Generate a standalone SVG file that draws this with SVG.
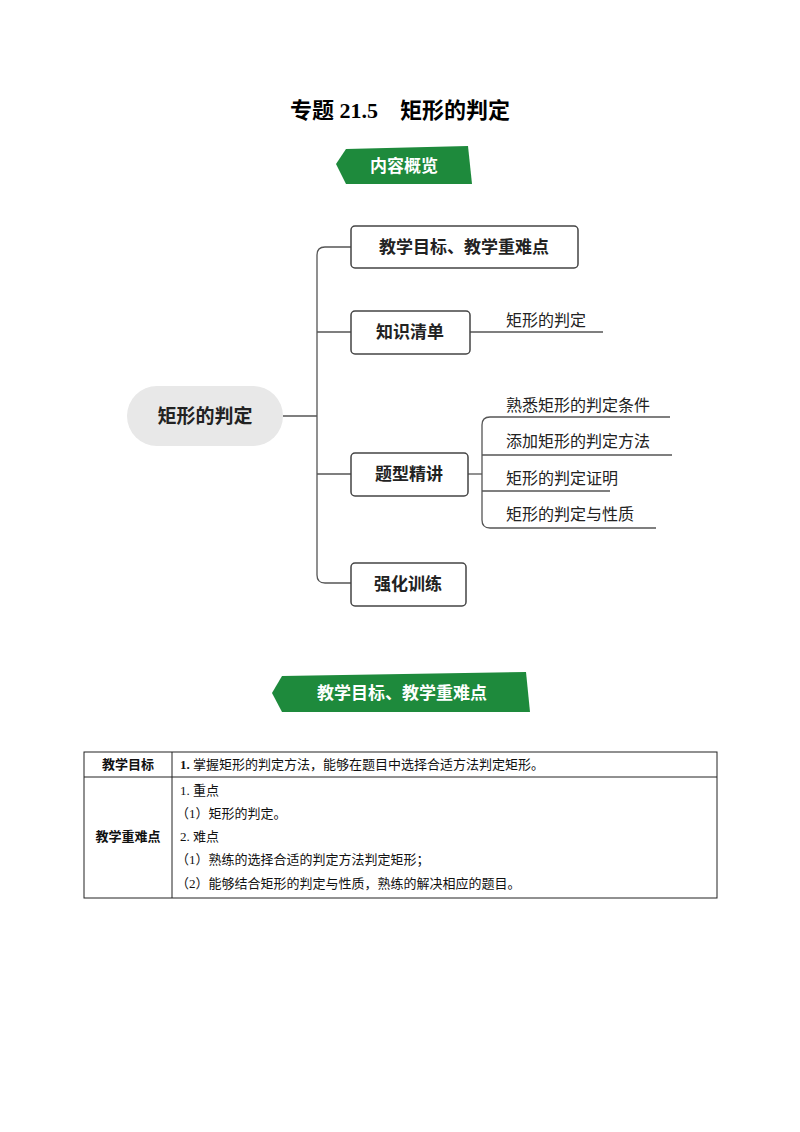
<svg xmlns="http://www.w3.org/2000/svg" width="800" height="1132" viewBox="0 0 800 1132">
<style>
.t{font-family:"Liberation Serif","Noto Sans CJK SC",serif;}
.s{font-family:"Noto Sans CJK SC",sans-serif;}
.box{fill:#fff;stroke:#444;stroke-width:1.5}
.ln{fill:none;stroke:#555;stroke-width:1.3}
.bt{font-family:"Noto Sans CJK SC",sans-serif;font-weight:bold;font-size:17px;fill:#222}
.lt{font-family:"Noto Sans CJK SC",sans-serif;font-size:16px;fill:#222}
.tb{stroke:#222;stroke-width:1;fill:none}
.tt{font-family:"Liberation Serif","Noto Sans CJK SC",serif;font-size:13px;fill:#111}
</style>
<rect width="800" height="1132" fill="#fff"/>
<text class="t" x="400" y="118" text-anchor="middle" font-size="22" font-weight="bold">专题 21.5　矩形的判定</text>
<g id="banner1">
<polygon points="346,149 468,146 472,184 346,184 336,164" fill="#1e8a3c"/>
<text class="s" x="404" y="172" text-anchor="middle" font-size="17" font-weight="bold" fill="#fff">内容概览</text>
</g>
<g id="connectors">
<path class="ln" d="M283,416 H317"/>
<path class="ln" d="M351,247 H325 Q317,247 317,255 V575 Q317,583 325,583 H351"/>
<path class="ln" d="M317,332 H351 M317,474 H351"/>
<path class="ln" d="M470,332 H603"/>
<path class="ln" d="M468,474 H482"/>
<path class="ln" d="M670,417 H490 Q482,417 482,425 V520 Q482,528 490,528 H656"/>
<path class="ln" d="M482,455 H672 M482,491 H610"/>
</g>
<g id="root"><rect x="127" y="386" width="156" height="60" rx="30" fill="#e8e8e8"/>
<text class="s" x="205" y="423" text-anchor="middle" font-size="19" font-weight="bold" fill="#222">矩形的判定</text></g>
<g id="n1"><rect class="box" x="351" y="226" width="227" height="42" rx="4"/><text class="bt" x="464" y="253" text-anchor="middle">教学目标、教学重难点</text></g>
<g id="n2"><rect class="box" x="351" y="311" width="119" height="43" rx="4"/><text class="bt" x="410" y="338" text-anchor="middle">知识清单</text></g>
<g id="n3"><rect class="box" x="351" y="453" width="117" height="43" rx="4"/><text class="bt" x="409" y="480" text-anchor="middle">题型精讲</text></g>
<g id="n4"><rect class="box" x="351" y="563" width="115" height="43" rx="4"/><text class="bt" x="408" y="590" text-anchor="middle">强化训练</text></g>
<g id="leaves">
<text class="lt" x="506" y="326">矩形的判定</text>
<text class="lt" x="506" y="411">熟悉矩形的判定条件</text>
<text class="lt" x="506" y="447">添加矩形的判定方法</text>
<text class="lt" x="506" y="484">矩形的判定证明</text>
<text class="lt" x="506" y="520">矩形的判定与性质</text>
</g>
<g id="banner2">
<polygon points="282,676 526,672 530,712 282,712 272,693" fill="#1e8a3c"/>
<text class="s" x="402" y="699" text-anchor="middle" font-size="17" font-weight="bold" fill="#fff">教学目标、教学重难点</text>
</g>
<g id="table">
<rect class="tb" x="84" y="752" width="633" height="146"/>
<line class="tb" x1="84" y1="777" x2="717" y2="777"/>
<line class="tb" x1="172" y1="752" x2="172" y2="898"/>
<text class="tt" x="128" y="769" text-anchor="middle" font-weight="bold">教学目标</text>
<text class="tt" x="128" y="841" text-anchor="middle" font-weight="bold">教学重难点</text>
<text class="tt" x="180" y="769"><tspan font-weight="bold">1.</tspan> 掌握矩形的判定方法，能够在题目中选择合适方法判定矩形。</text>
<text class="tt" x="180" y="795">1. 重点</text>
<text class="tt" x="176" y="818">（1）矩形的判定。</text>
<text class="tt" x="180" y="841">2. 难点</text>
<text class="tt" x="176" y="864">（1）熟练的选择合适的判定方法判定矩形；</text>
<text class="tt" x="176" y="888">（2）能够结合矩形的判定与性质，熟练的解决相应的题目。</text>
</g>
</svg>
